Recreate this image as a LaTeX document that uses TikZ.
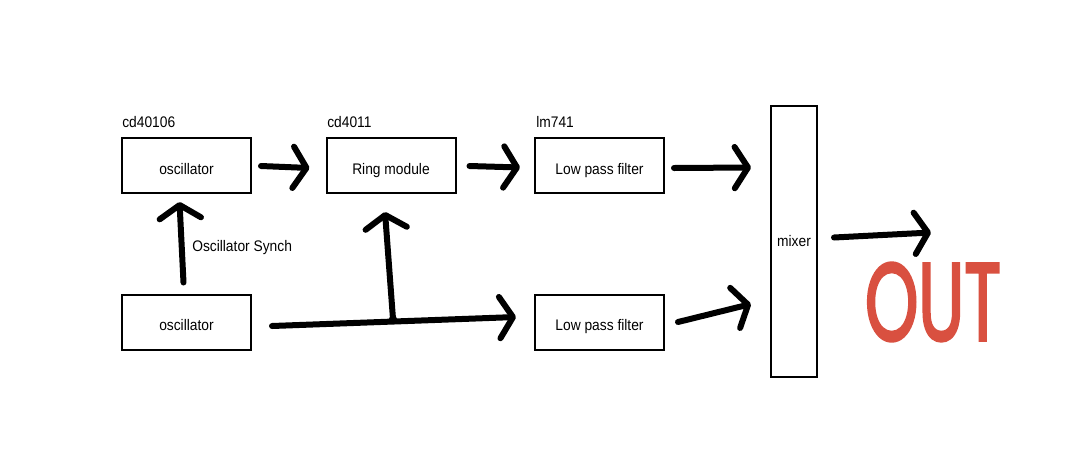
\documentclass[tikz,border=0pt]{standalone}
\usepackage{fontspec}
\setmainfont{Liberation Sans}[FakeStretch=0.9]
\newfontfamily\outfont{Poppins}[FakeBold=3]
\usetikzlibrary{arrows.meta,calc}
\definecolor{outred}{RGB}{217,80,64}
\begin{document}
\begin{tikzpicture}[x=0.75pt,y=-0.75pt,
  box/.style={draw,line width=1.5pt,minimum width=96.75pt,minimum height=41.25pt,inner sep=0pt,font=\fontsize{11.5}{13}\selectfont},
  tbox/.style={box,text height=13pt,text depth=0pt},
  lbl/.style={anchor=west,inner sep=0pt,font=\fontsize{11.5}{13}\selectfont},
  arr/.style={line width=4.5pt,line cap=round,line join=round,-{Straight Barb[length=10pt,width=31pt,round]}}]
\fill[white] (0,0) rectangle (1071,458);
\useasboundingbox (0,0) rectangle (1071,458);
\node[tbox] (osc1) at (186.5,165.5) {oscillator};
\node[tbox] (ring) at (391,165.5) {Ring module};
\node[tbox] (lpf1) at (599.5,165.5) {Low pass filter};
\node[tbox] (osc2) at (186.5,322) {oscillator};
\node[tbox] (lpf2) at (599.5,322) {Low pass filter};
\node[box,minimum width=34.5pt,minimum height=203pt] (mixer) at (794,241.5) {mixer};
\node[lbl] (l1) at (122,122) {cd40106};
\node[lbl] (l2) at (327,122) {cd4011};
\node[lbl] (l3) at (536,122) {lm741};
\node[lbl] (syn) at (192,248) {Oscillator Synch};
\node[text=outred,inner sep=0pt] (out) at (933,302) {\resizebox{102pt}{58pt}{\outfont OUT}};
\coordinate (m1) at (mixer.west|-lpf1.east);
\coordinate (m2) at (mixer.west|-lpf2.east);
\coordinate (j) at ($(osc2.east)!0.5!(lpf2.west)+(0,-3)$);
\draw[arr] ($(osc1.east)+(9,0.5)$) -- ($(ring.west)+(-16,2.5)$);
\draw[arr] ($(ring.east)+(13,0.5)$) -- ($(lpf1.west)+(-14,2)$);
\draw[arr] ($(lpf1.east)+(9,2.5)$) -- ($(m1)+(-19,2)$);
\draw[arr] ($(lpf2.east)+(13,0)$) -- ($(m2)+(-19,-18)$);
\draw[arr] ($(osc2.east)+(20,4)$) -- ($(lpf2.west)+(-18,-5)$);
\fill (j) circle (3pt);
\draw[arr] (j) -- ($(ring.south)+(-6,18)$);
\draw[arr] ($(osc2.north)+(-3,-11)$) -- ($(osc1.south)+(-7,8)$);
\draw[arr] ($(mixer.east)+(16,-4)$) -- ($(mixer.east)+(113,-9)$);
\end{tikzpicture}
\end{document}
